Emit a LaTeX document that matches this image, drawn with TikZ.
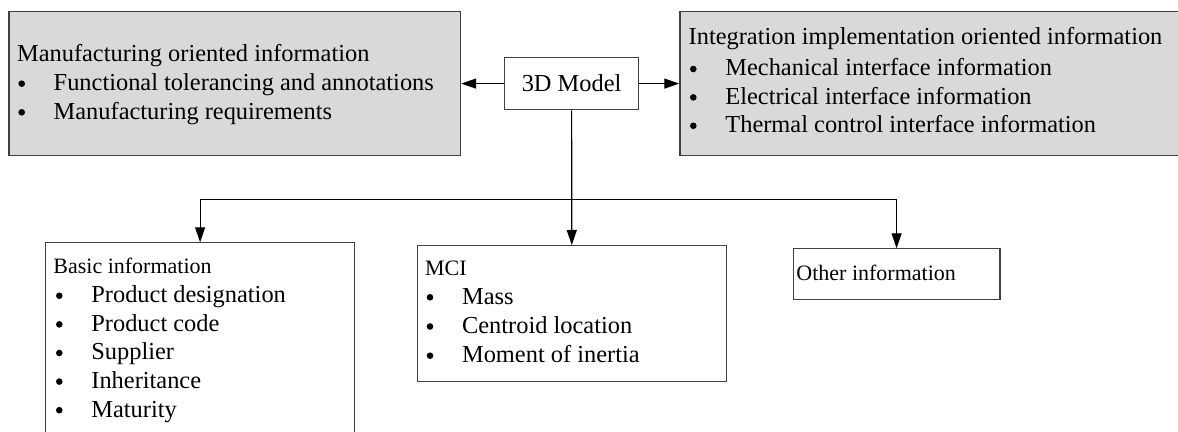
\documentclass[tikz,border=0pt]{standalone}
\usepackage{fontspec}
\setmainfont{Liberation Serif}
\usetikzlibrary{arrows.meta}
\definecolor{boxgray}{RGB}{217,217,217}
\tikzset{
  box/.style={draw=black!75, line width=0.6pt, anchor=north west, inner sep=0pt},
  graybox/.style={box, fill=boxgray},
  txt/.style={anchor=base west, inner sep=0pt, font=\fontsize{12.2}{14}\selectfont},
  head/.style={anchor=base west, inner sep=0pt, font=\fontsize{11}{13}\selectfont},
  bul/.style={circle, fill=black, inner sep=0pt, minimum size=3.3pt},
  arr/.style={-{Triangle[length=7.5pt,width=5pt]}, line width=0.6pt},
}
\begin{document}
\begin{tikzpicture}[x=0.5pt,y=-0.5pt]
  \useasboundingbox (0,0) rectangle (1178,432);
  % boxes
  \node[graybox, minimum width=225.85pt, minimum height=72.15pt] (mfg) at (8.3,10.7) {};
  \node[graybox, minimum width=249.1pt, minimum height=72.15pt] (integ) at (679.3,10.7) {};
  \node[box, minimum width=67pt, minimum height=26.3pt, font=\fontsize{12.2}{14}\selectfont] (model) at (504,56.7) {3D Model};
  \node[box, minimum width=154.5pt, minimum height=98.85pt] (basic) at (45,242.3) {};
  \node[box, minimum width=154.5pt, minimum height=67.85pt] (mci) at (416.7,245) {};
  \node[box, minimum width=103.3pt, minimum height=25.5pt] (other) at (792.7,248.3) {};
  % texts
  \node[txt] (mfg-t) at (16.7,61.7) {Manufacturing oriented information};
  \foreach \txt [count=\i from 0] in {Functional tolerancing and annotations, Manufacturing requirements} {
    \node[bul] (mfg-b\i) at (21.7,{83.7+28.6*\i}) {};
    \node[txt] (mfg-i\i) at (53.3,{90.7+28.6*\i}) {\txt};
  }
  \node[txt] (integ-t) at (688.3,45) {Integration implementation oriented information};
  \foreach \txt [count=\i from 0] in {Mechanical interface information, Electrical interface information, Thermal control interface information} {
    \node[bul] (integ-b\i) at (693.3,{69+28.4*\i}) {};
    \node[txt] (integ-i\i) at (725,{76+28.4*\i}) {\txt};
  }
  \node[head] (basic-t) at (53,274) {Basic information};
  \foreach \txt [count=\i from 0] in {Product designation, Product code, Supplier, Inheritance, Maturity} {
    \node[bul] (basic-b\i) at (59.3,{295.8+28.6*\i}) {};
    \node[txt] (basic-i\i) at (91,{302.8+28.6*\i}) {\txt};
  }
  \node[head] (mci-t) at (424.7,276) {MCI};
  \foreach \txt [count=\i from 0] in {Mass, Centroid location, Moment of inertia} {
    \node[bul] (mci-b\i) at (430,{297.3+29.2*\i}) {};
    \node[txt] (mci-i\i) at (461.7,{304.3+29.2*\i}) {\txt};
  }
  \node[head] (other-t) at (796,280.7) {Other information};
  % connectors
  \coordinate (bus) at (571,199.3);
  \draw[arr] (model.west) -- (model.west -| mfg.east);
  \draw[arr] (model.east) -- (model.east -| integ.west);
  \draw[arr] (model.south) -- (mci.north);
  \draw[arr] (bus) -| (basic.north);
  \draw[arr] (bus) -| (other.north);
\end{tikzpicture}
\end{document}
